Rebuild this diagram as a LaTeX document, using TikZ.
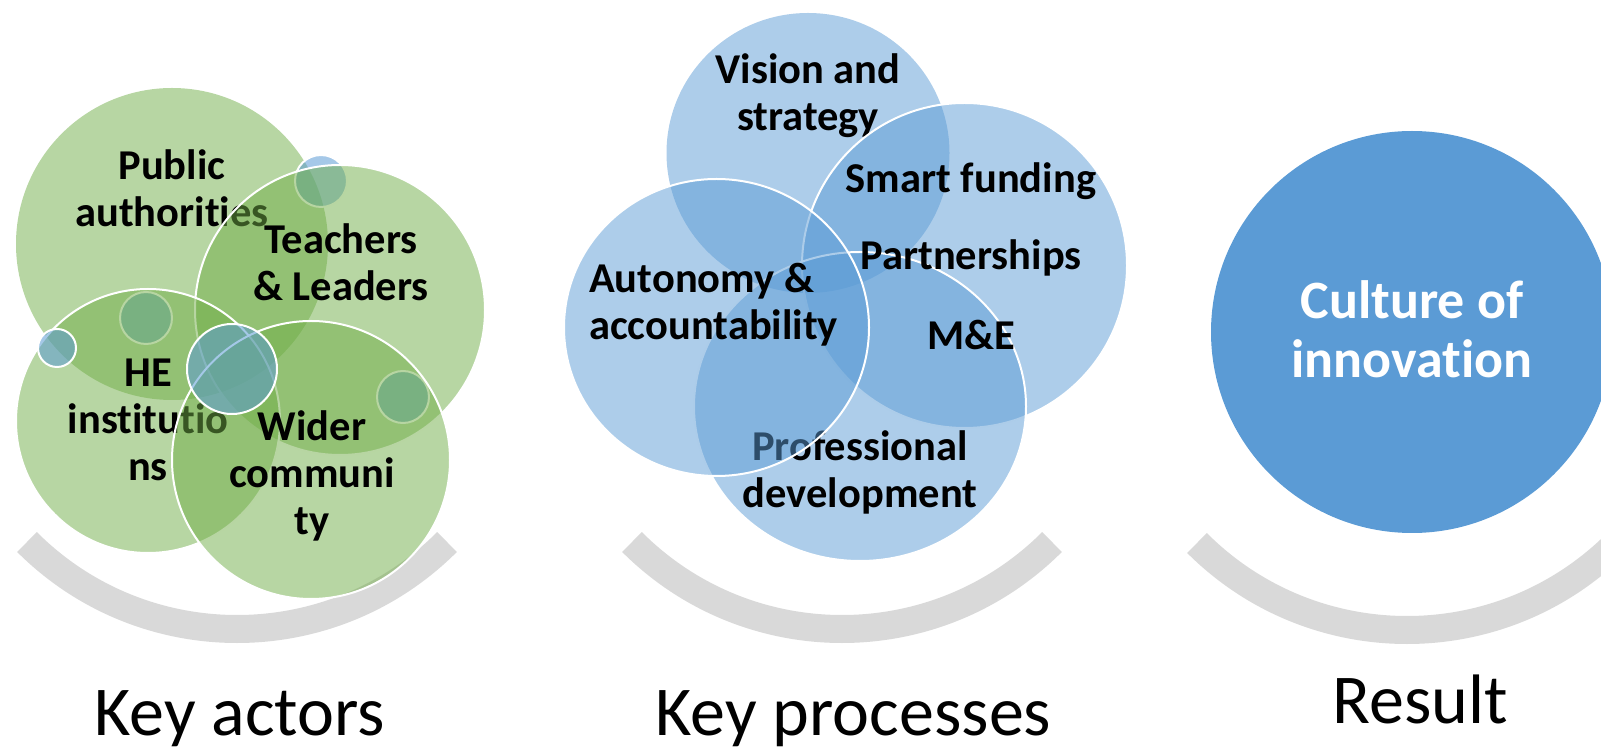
\documentclass[tikz,border=0pt]{standalone}
\usepackage{fontspec}
\setmainfont{Carlito}[Ligatures=NoCommon]
\usetikzlibrary{shapes.geometric}
\definecolor{gA}{HTML}{70AD47}
\definecolor{bA}{HTML}{5B9BD5}
\definecolor{arcg}{HTML}{D9D9D9}
\newcommand\fs{\rule{0pt}{44pt}}
\newcommand\fb{\rule{0pt}{56pt}}
\begin{document}
\begin{tikzpicture}[x=1pt,y=1pt,
  gcirc/.style={circle, inner sep=0pt, fill=gA, fill opacity=0.5, draw=white, line width=2pt},
  gbare/.style={circle, inner sep=0pt, fill=gA, fill opacity=0.5},
  bcirc/.style={circle, inner sep=0pt, fill=bA, fill opacity=0.5, draw=white, line width=2pt},
  bell/.style={ellipse, inner sep=0pt, fill=bA, fill opacity=0.5, draw=white, line width=2pt},
  bbare/.style={ellipse, inner sep=0pt, fill=bA, fill opacity=0.5},
  dotc/.style={circle, inner sep=0pt, fill=bA, fill opacity=0.55, draw=white, line width=2pt},
  lbl/.style={inner sep=0pt, anchor=north, align=center, text=black, font=\fontsize{42.5}{47}\selectfont\bfseries},
  lbb/.style={inner sep=0pt, anchor=base, text=black, font=\fontsize{42.5}{47}\selectfont\bfseries},
  band/.style={draw=arcg, line width=28pt},
  captext/.style={inner sep=0pt, anchor=base, text=black, font=\fontsize{70}{84}\selectfont}
]
\useasboundingbox (0,0) rectangle (1601,750);
\clip (0,0) rectangle (1601,750);

% grey arcs
\coordinate (ac1) at (237,418);
\coordinate (ac2) at (842,418);
\coordinate (ac3) at (1407,417);
\draw[band] (ac1) ++(225:297pt) arc[start angle=225, end angle=315, radius=297pt];
\draw[band] (ac2) ++(225:297pt) arc[start angle=225, end angle=315, radius=297pt];
\draw[band] (ac3) ++(225:297pt) arc[start angle=225, end angle=315, radius=297pt];

% ---------- Key actors ----------
\node[gbare, minimum size=312pt] (pub) at (172,506) {};
\node[lbl] (tpub) at (172,615) {\fs Public\\authorities};
\node[dotc, minimum size=52pt] (d1) at (321,569) {};
\node[gcirc, minimum size=290pt] (tea) at (340,440) {};
\node[lbl] (ttea) at (341,541) {\fs Teachers\\\& Leaders};
\node[dotc, minimum size=52pt] (d2) at (146,432) {};
\node[gcirc, minimum size=264pt] (he) at (148,329) {};
\node[lbl] (the) at (148,408) {\fs HE\\institutio\\ns};
\node[dotc, minimum size=38pt] (d3) at (57,402) {};
\node[dotc, minimum size=52pt] (d4) at (403,353) {};
\node[gcirc, minimum size=278pt] (wid) at (311,290) {};
\node[lbl] (twid) at (312,354) {\fs Wider\\communi\\ty};
\node[dotc, minimum size=90pt] (d5) at (232,381) {};

% ---------- Key processes ----------
\node[bbare, minimum width=283pt, minimum height=280pt] (vis) at (808,597) {};
\node[lbl] (tvis) at (808,711) {\fs Vision and\\strategy};
\node[bcirc, minimum size=325pt] (sma) at (964.5,484.5) {};
\node[lbb] (tsma) at (971,557) {Smart funding};
\node[bell, minimum width=332pt, minimum height=309pt] (pro) at (860,343.5) {};
\node[lbl] (tpro) at (860,334) {\fs Professional\\development};
\node[bell, minimum width=305pt, minimum height=297pt] (aut) at (716.5,422.5) {};
\node[lbl, anchor=north west, align=left] (taut) at (589,502) {\fs Autonomy \&\\accountability};
\node[lbb] (tpar) at (971,480) {Partnerships};
\node[lbb] (tme) at (971,400) {M\&E};

% ---------- Result ----------
\node[circle, inner sep=0pt, fill=bA, minimum size=402pt] (res) at (1412,418) {};
\node[inner sep=0pt, anchor=north, align=center, text=white, font=\fontsize{54}{59}\selectfont\bfseries] (tres) at (1412,488) {\fb Culture of\\innovation};

% ---------- captions ----------
\node[captext] (c1) at (240,15) {Key actors};
\node[captext] (c2) at (853.5,15) {Key processes};
\node[captext] (c3) at (1420,27) {Result};
\end{tikzpicture}
\end{document}
